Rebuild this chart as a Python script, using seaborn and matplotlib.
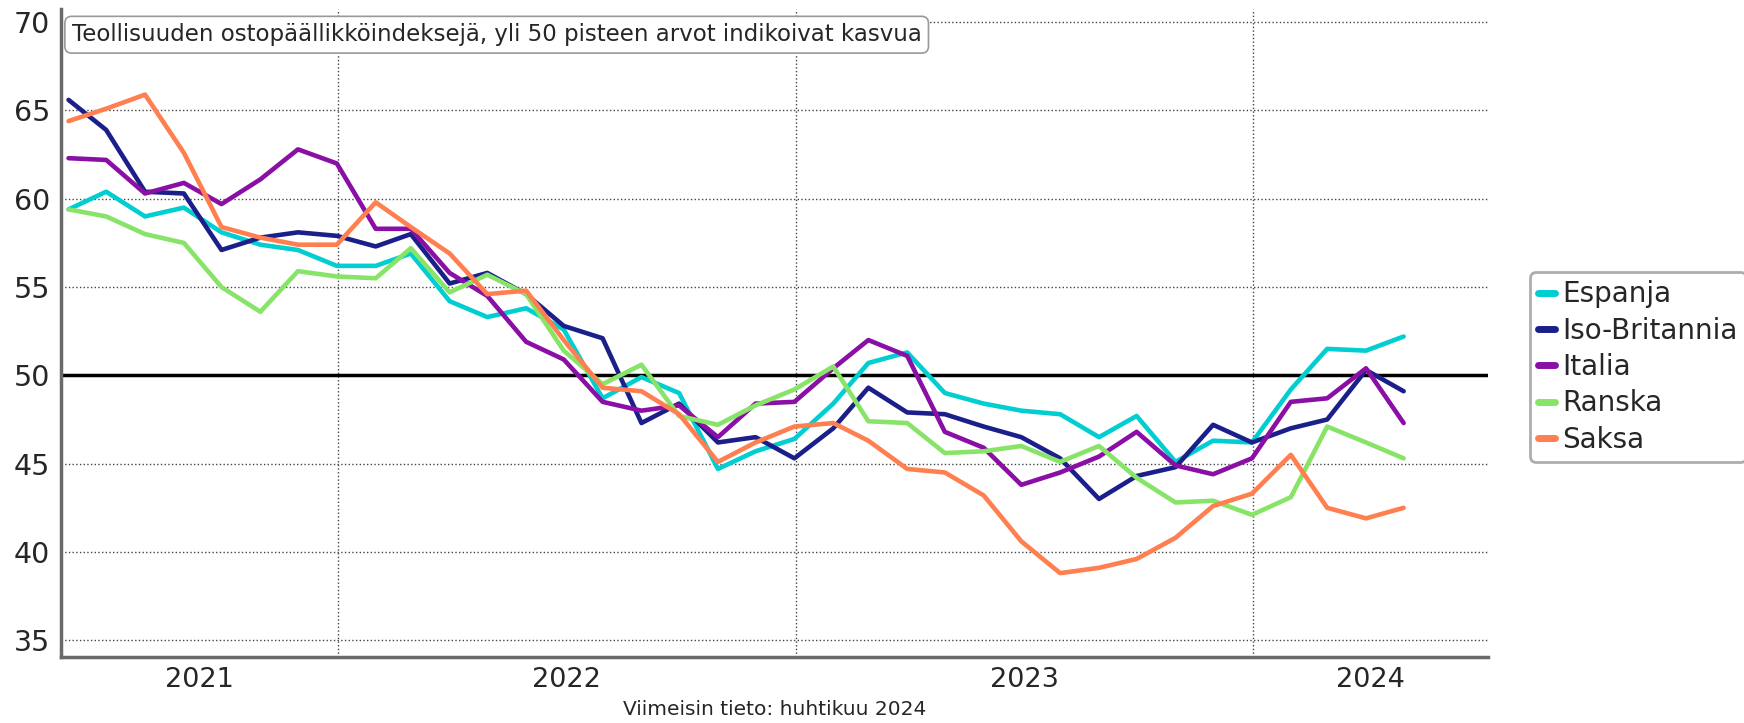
import numpy as np
import pandas as pd
import matplotlib
matplotlib.use("Agg")
import matplotlib.pyplot as plt
import matplotlib.dates as mdates
import seaborn as sns

# monthly PMI values, May 2021 - April 2024
months = pd.date_range("2021-05-31", periods=36, freq="ME")

espanja = [59.4, 60.4, 59.0, 59.5, 58.1, 57.4, 57.1, 56.2,
           56.2, 56.9, 54.2, 53.3, 53.8, 52.6, 48.7, 49.9, 49.0, 44.7, 45.7, 46.4,
           48.4, 50.7, 51.3, 49.0, 48.4, 48.0, 47.8, 46.5, 47.7, 45.1, 46.3, 46.2,
           49.2, 51.5, 51.4, 52.2]
iso_britannia = [65.6, 63.9, 60.4, 60.3, 57.1, 57.8, 58.1, 57.9,
                 57.3, 58.0, 55.2, 55.8, 54.6, 52.8, 52.1, 47.3, 48.4, 46.2, 46.5, 45.3,
                 47.0, 49.3, 47.9, 47.8, 47.1, 46.5, 45.3, 43.0, 44.3, 44.8, 47.2, 46.2,
                 47.0, 47.5, 50.3, 49.1]
italia = [62.3, 62.2, 60.3, 60.9, 59.7, 61.1, 62.8, 62.0,
          58.3, 58.3, 55.8, 54.5, 51.9, 50.9, 48.5, 48.0, 48.3, 46.5, 48.4, 48.5,
          50.4, 52.0, 51.1, 46.8, 45.9, 43.8, 44.5, 45.4, 46.8, 44.9, 44.4, 45.3,
          48.5, 48.7, 50.4, 47.3]
ranska = [59.4, 59.0, 58.0, 57.5, 55.0, 53.6, 55.9, 55.6,
          55.5, 57.2, 54.7, 55.7, 54.6, 51.4, 49.5, 50.6, 47.7, 47.2, 48.3, 49.2,
          50.5, 47.4, 47.3, 45.6, 45.7, 46.0, 45.1, 46.0, 44.2, 42.8, 42.9, 42.1,
          43.1, 47.1, 46.2, 45.3]
saksa = [64.4, 65.1, 65.9, 62.6, 58.4, 57.8, 57.4, 57.4,
         59.8, 58.4, 56.9, 54.6, 54.8, 52.0, 49.3, 49.1, 47.8, 45.1, 46.2, 47.1,
         47.3, 46.3, 44.7, 44.5, 43.2, 40.6, 38.8, 39.1, 39.6, 40.8, 42.6, 43.3,
         45.5, 42.5, 41.9, 42.5]

countries = ["Espanja", "Iso-Britannia", "Italia", "Ranska", "Saksa"]
colors = ["#00CED1", "#1B1F8A", "#8A0FA5", "#88E468", "#FF7F50"]

df = pd.DataFrame({"kk": months, "Espanja": espanja, "Iso-Britannia": iso_britannia,
                   "Italia": italia, "Ranska": ranska, "Saksa": saksa})
long = df.melt(id_vars="kk", var_name="maa", value_name="pmi")

sns.set_style("white")
plt.rcParams["font.family"] = ["DejaVu Sans"]

fig = plt.figure(figsize=(17.44, 7.23), dpi=100)
ax = fig.add_axes([0.035, 0.0913, 0.818, 0.8963])

sns.lineplot(data=long, x="kk", y="pmi", hue="maa", hue_order=countries,
             palette=dict(zip(countries, colors)), linewidth=3.3, ax=ax)

ax.axhline(50, color="black", linewidth=2.5, zorder=1)

xmin = pd.Timestamp("2021-05-25")
xmax = pd.Timestamp("2024-07-06")
ax.set_xlim(xmin, xmax)
ax.set_ylim(34.05, 70.75)

# year boundaries as major ticks, year names at the centre of each visible year
bounds = [pd.Timestamp(f"{y}-01-01") for y in (2022, 2023, 2024)]
edges = [xmin] + bounds + [xmax]
centers = [a + (b - a) / 2 for a, b in zip(edges[:-1], edges[1:])]
ax.set_xticks(bounds)
ax.set_xticklabels([])
ax.set_xticks(centers, minor=True)
ax.set_xticklabels(["2021", "2022", "2023", "2024"], minor=True, fontsize=19.5)
ax.tick_params(axis="x", which="minor", length=0, pad=7)
ax.tick_params(axis="x", which="major", length=5, color="#333333")

ax.set_yticks([35, 40, 45, 50, 55, 60, 65, 70])
ax.tick_params(axis="y", labelsize=20.5, length=5, color="#333333", pad=3)

ax.grid(True, which="major", linestyle=":", color="#444444", linewidth=1.0)
for side in ("top", "right"):
    ax.spines[side].set_visible(False)
for side in ("left", "bottom"):
    ax.spines[side].set_color("#6a6a6a")
    ax.spines[side].set_linewidth(2.5)

ax.set_xlabel("")
ax.set_ylabel("")
ax.text(0.5, -0.081, "Viimeisin tieto: huhtikuu 2024", transform=ax.transAxes,
        ha="center", va="center", fontsize=14.5)

ax.text(0.0075, 0.978, "Teollisuuden ostopäällikköindeksejä, yli 50 pisteen arvot indikoivat kasvua",
        transform=ax.transAxes, ha="left", va="top", fontsize=16.5,
        bbox=dict(boxstyle="round,pad=0.3", facecolor="white", edgecolor="#999999", linewidth=1.2))

leg = ax.legend(loc="center left", bbox_to_anchor=(1530 / 1744, 1 - 367 / 723),
                bbox_transform=fig.transFigure, fontsize=20, frameon=True,
                handlelength=0.6, handletextpad=0.25, labelspacing=0.3,
                borderpad=0.3, borderaxespad=0, fancybox=True, title=None)
leg.get_frame().set_edgecolor("#999999")
leg.get_frame().set_linewidth(2)
for line in leg.get_lines():
    line.set_linewidth(5)

fig.savefig("out.png", dpi=100)
